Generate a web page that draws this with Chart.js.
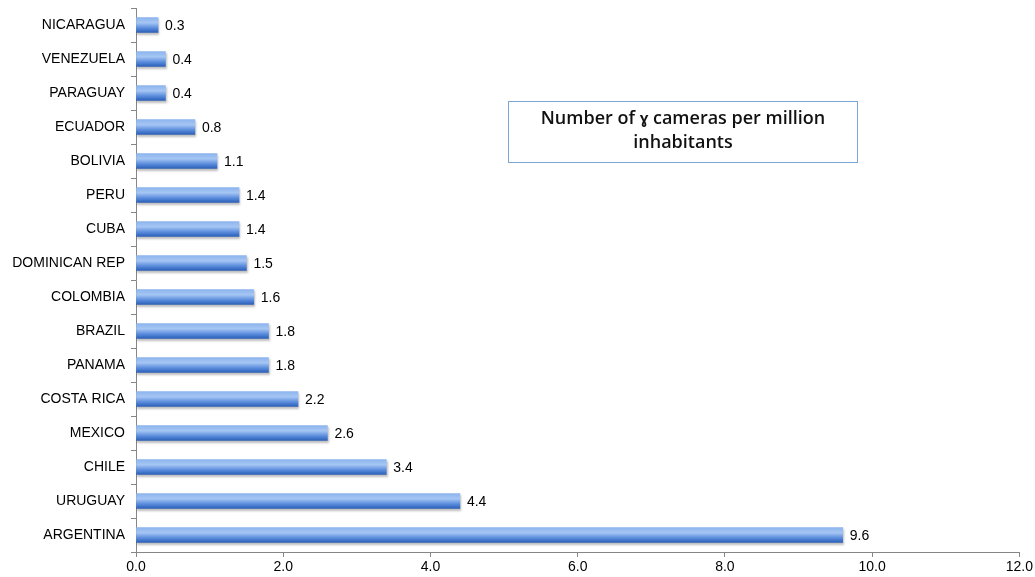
<!DOCTYPE html>
<html>
<head>
<meta charset="utf-8">
<script src="https://cdn.jsdelivr.net/npm/chart.js@4.4.1/dist/chart.umd.min.js"></script>
<style>
  html, body { margin: 0; padding: 0; background: #fff; }
  #wrap { width: 1035px; height: 577px; position: relative; }
</style>
</head>
<body>
<div id="wrap"><canvas id="grafico"></canvas></div>
<script>
// paises y camaras gamma por millon de habitantes
const paises = ["NICARAGUA", "VENEZUELA", "PARAGUAY", "ECUADOR", "BOLIVIA", "PERU", "CUBA",
  "DOMINICAN REP", "COLOMBIA", "BRAZIL", "PANAMA", "COSTA RICA", "MEXICO", "CHILE", "URUGUAY", "ARGENTINA"];
const camaras = [0.3, 0.4, 0.4, 0.8, 1.1, 1.4, 1.4, 1.5, 1.6, 1.8, 1.8, 2.2, 2.6, 3.4, 4.4, 9.6];
const ticksX = [0, 2, 4, 6, 8, 10, 12];
const titulo = ["Number of \u0263 cameras per million", "inhabitants"];

const grosorBarra = 15;
const fuente = "'Liberation Sans', Arial, sans-serif";

// degradado vertical de cada barra (claro arriba, oscuro abajo)
function colorBarra(context) {
  const chart = context.chart;
  const y = chart.scales.y;
  if (!y || context.dataIndex === undefined) return "#5b8fdc";
  const centro = y.getPixelForValue(context.dataIndex);
  const g = chart.ctx.createLinearGradient(0, centro - grosorBarra / 2, 0, centro + grosorBarra / 2);
  g.addColorStop(0, "#8cb4ee");
  g.addColorStop(0.35, "#a6c6f4");
  g.addColorStop(0.7, "#5a8cdc");
  g.addColorStop(1, "#2c60b8");
  return g;
}

// sombra suave debajo de las barras
const sombra = {
  id: "sombra",
  beforeDatasetsDraw(chart) {
    const c = chart.ctx;
    c.save();
    c.shadowColor = "rgba(0,0,0,0.25)";
    c.shadowOffsetX = 1;
    c.shadowOffsetY = 2;
    c.shadowBlur = 2;
  },
  afterDatasetsDraw(chart) {
    chart.ctx.restore();
  }
};

// valores a la derecha de cada barra
const etiquetas = {
  id: "etiquetas",
  afterDatasetsDraw(chart) {
    const c = chart.ctx;
    const meta = chart.getDatasetMeta(0);
    c.save();
    c.font = "14px " + fuente;
    c.fillStyle = "#000";
    c.textAlign = "left";
    c.textBaseline = "middle";
    meta.data.forEach((bar, i) => {
      c.fillText(camaras[i].toFixed(1), bar.x + 7, bar.y + 1);
    });
    c.restore();
  }
};

// recuadro con el titulo
const recuadro = {
  id: "recuadro",
  afterDraw(chart) {
    const c = chart.ctx;
    c.save();
    c.strokeStyle = "#7aa6d6";
    c.lineWidth = 1;
    c.strokeRect(508.5, 101.5, 349, 61);
    c.font = "600 18px 'Open Sans', Calibri, sans-serif";
    c.fillStyle = "#111";
    c.textAlign = "center";
    c.textBaseline = "middle";
    c.fillText(titulo[0], 683, 119);
    c.fillText(titulo[1], 683, 143);
    c.restore();
  }
};

const ctx = document.getElementById("grafico");
const myChart = new Chart(ctx, {
  type: "bar",
  data: {
    labels: paises,
    datasets: [{
      data: camaras,
      backgroundColor: colorBarra,
      borderWidth: 0,
      barThickness: grosorBarra
    }]
  },
  options: {
    indexAxis: "y",
    responsive: true,
    maintainAspectRatio: false,
    animation: false,
    layout: { padding: { top: 8, right: 12, left: 0, bottom: 0 } },
    plugins: {
      legend: false,
      tooltip: { enabled: false }
    },
    scales: {
      x: {
        min: 0,
        max: 12,
        afterBuildTicks(scale) {
          scale.ticks = ticksX.map(v => ({ value: v }));
        },
        afterFit(scale) { scale.height = 25; },
        ticks: {
          color: "#000",
          font: { size: 14, family: fuente },
          padding: 2,
          callback: v => Number(v).toFixed(1)
        },
        grid: {
          drawOnChartArea: false,
          drawTicks: true,
          tickLength: 5,
          color: "#868686"
        },
        border: { color: "#868686", width: 1 }
      },
      y: {
        afterFit(scale) {
          scale.width = 136;
          scale.paddingTop = 0;
          scale.paddingBottom = 0;
        },
        ticks: {
          color: "#000",
          font: { size: 14, family: fuente },
          padding: 6
        },
        grid: {
          offset: true,
          drawOnChartArea: false,
          drawTicks: true,
          tickLength: 5,
          color: "#868686"
        },
        border: { color: "#868686", width: 1 }
      }
    }
  },
  plugins: [sombra, etiquetas, recuadro]
});
</script>
</body>
</html>
